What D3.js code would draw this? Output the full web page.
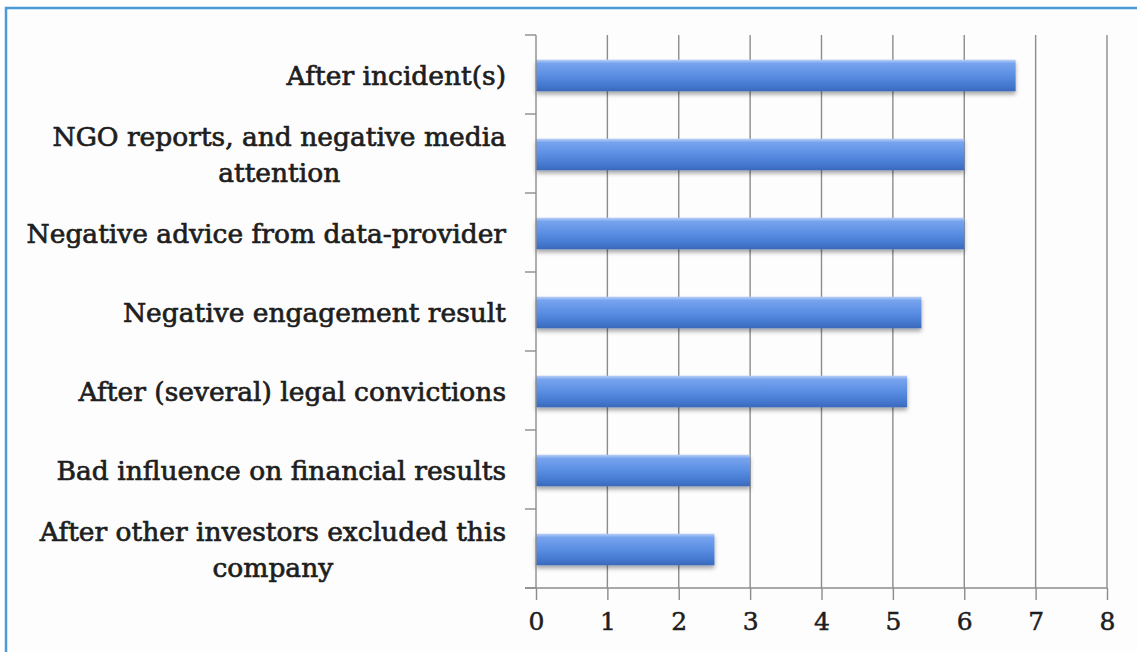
<!DOCTYPE html>
<html>
<head>
<meta charset="utf-8">
<script src="https://cdn.jsdelivr.net/npm/d3@7"></script>
<style>
  html, body { margin: 0; padding: 0; background: #fff; }
  svg { display: block; }
  .lbl { font-family: "DejaVu Serif", serif; fill: #1e1e1e; }
</style>
</head>
<body>
<svg width="1137" height="652"></svg>
<script>
// categories, top to bottom ("\n" = line break as in the original)
var categories = [
    "After incident(s)",
    "NGO reports, and negative media\nattention",
    "Negative advice from data-provider",
    "Negative engagement result",
    "After (several) legal convictions",
    "Bad influence on financial results",
    "After other investors excluded this\ncompany"
];
var values = [6.72, 6, 6, 5.4, 5.2, 3, 2.5];
var xTicks = [0, 1, 2, 3, 4, 5, 6, 7, 8];

var svg = d3.select("svg");

// frame
svg.append("rect")
    .attr("x", 6).attr("y", 8)
    .attr("width", 1150).attr("height", 680)
    .style("fill", "#fdfdfd")
    .style("stroke", "#4a9bd6")
    .style("stroke-width", 2.5);

var defs = svg.append("defs");
var grad = defs.append("linearGradient")
    .attr("id", "barGrad")
    .attr("x1", 0).attr("y1", 0).attr("x2", 0).attr("y2", 1);
grad.append("stop").attr("offset", "0%").attr("stop-color", "#b9d0f6");
grad.append("stop").attr("offset", "12%").attr("stop-color", "#76a3ee");
grad.append("stop").attr("offset", "50%").attr("stop-color", "#5a8ee3");
grad.append("stop").attr("offset", "85%").attr("stop-color", "#4276cd");
grad.append("stop").attr("offset", "100%").attr("stop-color", "#3b68b8");

var shadow = defs.append("filter").attr("id", "shadow")
    .attr("x", "-5%").attr("y", "-20%").attr("width", "110%").attr("height", "160%");
shadow.append("feDropShadow")
    .attr("dx", 0).attr("dy", 3)
    .attr("stdDeviation", 2)
    .attr("flood-color", "#000")
    .attr("flood-opacity", 0.35);

var x = d3.scaleLinear().domain([0, 8]).range([536, 1107]);
var y = d3.scaleBand().domain(categories).range([35, 588])
    .paddingInner(0.6).paddingOuter(0.3);

// gridlines
svg.append("g").selectAll("line")
    .data(xTicks.slice(1))
    .enter().append("line")
    .attr("x1", function(d) { return x(d); })
    .attr("x2", function(d) { return x(d); })
    .attr("y1", 35).attr("y2", 588)
    .style("stroke", "#8c8c8c")
    .style("stroke-width", 1.4);

// bars
svg.append("g").selectAll("rect")
    .data(values)
    .enter().append("rect")
    .attr("x", x(0))
    .attr("y", function(d, i) { return y(categories[i]) + 1; })
    .attr("width", function(d) { return x(d) - x(0); })
    .attr("height", y.bandwidth())
    .style("fill", "url(#barGrad)")
    .attr("filter", "url(#shadow)");

// left axis with ticks at band boundaries
var bounds = d3.range(categories.length + 1).map(function(i) {
    return y.range()[0] + i * y.step();
});
var left = svg.append("g");
left.append("line")
    .attr("x1", x(0)).attr("x2", x(0))
    .attr("y1", 35).attr("y2", 588)
    .style("stroke", "#8c8c8c").style("stroke-width", 1.4);
left.selectAll("line.tk")
    .data(bounds)
    .enter().append("line")
    .attr("class", "tk")
    .attr("x1", x(0) - 11).attr("x2", x(0))
    .attr("y1", function(d) { return d; })
    .attr("y2", function(d) { return d; })
    .style("stroke", "#8c8c8c").style("stroke-width", 1.4);

// bottom axis
var xAxis = svg.append("g")
    .attr("transform", "translate(0,588)")
    .call(d3.axisBottom(x).tickValues(xTicks).tickSize(12).tickPadding(12)
        .tickFormat(d3.format("d")));
xAxis.select(".domain").remove();
xAxis.append("line")
    .attr("x1", x(0) - 11).attr("x2", x(8))
    .style("stroke", "#8c8c8c").style("stroke-width", 1.4);
xAxis.selectAll(".tick line").style("stroke", "#8c8c8c").style("stroke-width", 1.4);
xAxis.selectAll(".tick text")
    .attr("class", "lbl")
    .style("font-size", "25px")
    .style("font-family", "'DejaVu Serif', serif")
    .style("fill", "#1e1e1e")
    .style("stroke", "#1e1e1e")
    .style("stroke-width", 0.5);

// category labels, right-aligned block, lines centered within block
var fs = 26.5, lh = 36, right = 506;
categories.forEach(function(c) {
    var lines = c.split("\n");
    var g = svg.append("g");
    var cy = y(c) + y.bandwidth() / 2 + 1;
    var texts = lines.map(function(t, j) {
        return g.append("text")
            .attr("class", "lbl")
            .attr("y", cy + (j - (lines.length - 1) / 2) * lh)
            .attr("dy", "0.35em")
            .style("font-size", fs + "px")
            .style("stroke", "#1e1e1e")
            .style("stroke-width", 0.7)
            .text(t);
    });
    var w = d3.max(texts, function(t) { return t.node().getComputedTextLength(); });
    texts.forEach(function(t) {
        t.attr("x", right - w / 2).attr("text-anchor", "middle");
    });
});
</script>
</body>
</html>
